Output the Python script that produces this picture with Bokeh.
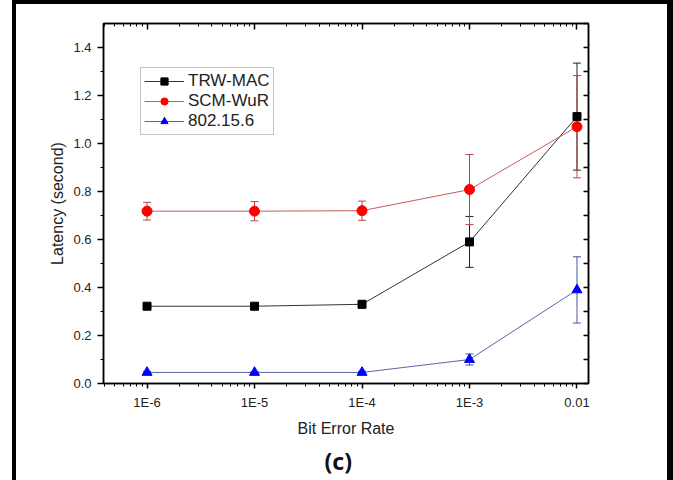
from bokeh.plotting import figure
from bokeh.models import (ColumnDataSource, Whisker, TeeHead, FixedTicker, LogAxis, LinearAxis,
                          Legend, LegendItem, Title, Range1d, CustomJSTickFormatter)
from bokeh.embed import file_html
from bokeh.resources import INLINE

# ---- data ----
ber = [1e-6, 1e-5, 1e-4, 1e-3, 1e-2]
ber_labels = ["1E-6", "1E-5", "1E-4", "1E-3", "0.01"]

trw = [0.322, 0.322, 0.330, 0.590, 1.112]
trw_err = [0.008, 0.010, 0.015, 0.106, 0.223]

scm = [0.718, 0.718, 0.720, 0.808, 1.070]
scm_err = [0.037, 0.040, 0.040, 0.146, 0.213]

ieee = [0.046, 0.046, 0.046, 0.100, 0.390]
ieee_err = [0.004, 0.004, 0.005, 0.023, 0.138]

y_ticks = [0.0, 0.2, 0.4, 0.6, 0.8, 1.0, 1.2, 1.4]
y_tick_labels = ["0.0", "0.2", "0.4", "0.6", "0.8", "1.0", "1.2", "1.4"]
y_minor = [0.1, 0.3, 0.5, 0.7, 0.9, 1.1, 1.3]
y_right_ticks = [0.0, 0.1, 0.2, 0.3, 0.4, 0.5, 0.6, 0.7, 0.8, 0.9, 1.0, 1.1, 1.2, 1.3, 1.4, 1.5]

x_minor = [m * 10.0 ** k for k in range(-7, -1) for m in range(2, 10)]

FONT = "Liberation Sans"

p = figure(width=673, height=480, x_axis_type="log",
           x_range=Range1d(10 ** -6.405, 10 ** -1.893), y_range=Range1d(0, 1.5),
           output_backend="svg", toolbar_location=None,
           min_border_left=103, min_border_right=85, min_border_top=23, min_border_bottom=97)
p.styles = {
    "background-color": "white",
    "box-shadow": "inset 12px 0 0 0 white, inset 16px 0 0 0 black, inset 0 4px 0 0 black, inset -6px 0 0 0 black",
}
p.border_fill_color = None
p.background_fill_color = "white"
p.outline_line_color = "black"
p.outline_line_width = 1.5
p.xgrid.visible = False
p.ygrid.visible = False

# bottom axis
xa = p.xaxis[0]
xa.ticker = FixedTicker(ticks=ber, minor_ticks=x_minor)
xa.formatter = CustomJSTickFormatter(args=dict(vals=ber, labs=ber_labels), code="""
    let best = 0, bd = Infinity;
    for (let i = 0; i < vals.length; i++) {
        const d = Math.abs(Math.log10(tick) - Math.log10(vals[i]));
        if (d < bd) { bd = d; best = i; }
    }
    return labs[best];
""")
xa.axis_label = "Bit Error Rate"
# left axis
ya = p.yaxis[0]
ya.ticker = FixedTicker(ticks=y_ticks, minor_ticks=y_minor)
ya.formatter = CustomJSTickFormatter(args=dict(vals=y_ticks, labs=y_tick_labels), code="""
    let best = 0, bd = Infinity;
    for (let i = 0; i < vals.length; i++) {
        const d = Math.abs(tick - vals[i]);
        if (d < bd) { bd = d; best = i; }
    }
    return labs[best];
""")
ya.axis_label = "Latency (second)"

for ax, tout in ((xa, 5), (ya, 6)):
    ax.axis_line_width = 1.5
    ax.major_tick_line_width = 1.5
    ax.minor_tick_line_width = 1
    ax.major_tick_out = tout
    ax.major_tick_in = 0
    ax.minor_tick_out = 3
    ax.minor_tick_in = 0
    ax.major_label_text_font = FONT
    ax.major_label_text_font_size = "13px"
    ax.major_label_text_color = "#222222"
    ax.major_label_standoff = 6
    ax.axis_label_text_font = FONT
    ax.axis_label_text_font_size = "16px"
    ax.axis_label_text_font_style = "normal"
    ax.axis_label_text_color = "#222222"
xa.axis_label_standoff = 7
ya.axis_label_standoff = 4

top = LogAxis(ticker=FixedTicker(ticks=ber, minor_ticks=x_minor),
              formatter=CustomJSTickFormatter(code="return ''"),
              major_tick_in=6, major_tick_out=0, minor_tick_in=3, minor_tick_out=0,
              axis_line_width=1.5, major_tick_line_width=1.5, minor_tick_line_width=1,
              major_label_standoff=0)
p.add_layout(top, "above")
right = LinearAxis(ticker=FixedTicker(ticks=y_right_ticks, minor_ticks=[]),
                   formatter=CustomJSTickFormatter(code="return ''"),
                   major_tick_in=5, major_tick_out=0, minor_tick_in=0, minor_tick_out=0,
                   axis_line_width=1.5, major_tick_line_width=1.5,
                   major_label_standoff=0)
p.add_layout(right, "right")

series = [
    ("TRW-MAC", trw, trw_err, "#333333", "#222222", "#000000", "square", 8),
    ("SCM-WuR", scm, scm_err, "#c85a5a", "#b04848", "#ff0000", "circle", 10),
    ("802.15.6", ieee, ieee_err, "#5a64a8", "#4a54a0", "#0000ff", "triangle", 10),
]

items = []
for name, ys, errs, lc, ec, mc, mk, ms in series:
    src = ColumnDataSource(dict(x=ber, y=ys,
                                upper=[v + e for v, e in zip(ys, errs)],
                                lower=[v - e for v, e in zip(ys, errs)]))
    r_line = p.line("x", "y", source=src, line_color=lc, line_width=1)
    w = Whisker(source=src, base="x", upper="upper", lower="lower", dimension="height",
                line_color=ec, line_width=1,
                upper_head=TeeHead(size=8, line_color=ec, line_width=1),
                lower_head=TeeHead(size=8, line_color=ec, line_width=1))
    p.add_layout(w)
    r_mk = p.scatter("x", "y", source=src, marker=mk, size=ms,
                     fill_color=mc, line_color=mc)
    items.append(LegendItem(label=name, renderers=[r_line, r_mk]))

legend = Legend(items=items, location=(37, 248), margin=0, padding=3, spacing=0,
                glyph_width=40, glyph_height=18, label_height=18, label_standoff=4,
                label_text_font=FONT, label_text_font_size="17px", label_text_color="#222222",
                border_line_color="#8a8a8a", border_line_width=1,
                background_fill_color="white", background_fill_alpha=1)
p.add_layout(legend)

caption = Title(text="(c)", align="left", offset=221, standoff=7,
                text_font="Noto Sans", text_font_style="bold", text_font_size="23px",
                text_color="#111111")
p.add_layout(caption, "below")

open("out.html", "w").write(file_html(p, INLINE))
